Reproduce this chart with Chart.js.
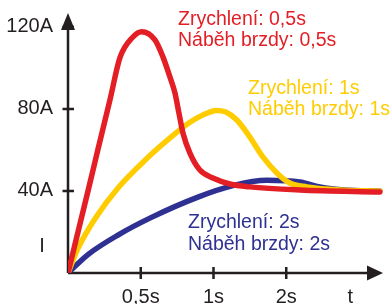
<!DOCTYPE html>
<html>
<head>
<meta charset="utf-8">
<script src="https://cdn.jsdelivr.net/npm/chart.js@4"></script>
<style>
  html, body { margin: 0; padding: 0; background: #fff; }
  #wrap { width: 392px; height: 304px; }
</style>
</head>
<body>
<div id="wrap"><canvas id="proudChart" width="392" height="304"></canvas></div>
<script>
// poloha na ose x v jednotkach dilku (1 = 0,5s, 2 = 1s, 3 = 2s)
var xTicks = [1, 2, 3, 3.88];
var xLabels = ['0,5s', '1s', '2s', 't'];
var yTicks = [40, 80, 120];

// zrychleni 0,5s
var redX = [0, 0.275, 0.41, 0.577, 0.714, 0.893, 1.012, 1.195, 1.305, 1.401, 1.47, 1.525, 1.58, 1.676, 1.813, 1.992, 2.225, 2.5, 3.187, 4.286];
var redA = [0, 40, 60, 84.4, 105, 115.1, 117.7, 113.7, 105.4, 95.6, 87.8, 78.0, 68.3, 58.5, 50.2, 46.3, 43.4, 42.0, 40.5, 39.5];

// zrychleni 1s
var yellowX = [0, 0.137, 0.371, 0.687, 1.058, 1.374, 1.676, 1.882, 2.033, 2.17, 2.321, 2.5, 2.679, 2.871, 3.049, 3.283, 3.736, 4.286];
var yellowA = [0, 12.0, 26.5, 41.5, 55.0, 65.0, 73.5, 77.5, 79.3, 78.5, 74.6, 66.3, 56.6, 48.8, 43.9, 42.0, 40.5, 40.0];

// zrychleni 2s
var blueX = [0, 0.275, 0.687, 1.14, 1.786, 2.266, 2.734, 3.187, 3.462, 3.805, 4.286];
var blueA = [0, 9.0, 18.5, 27.0, 37.0, 42.6, 45.2, 44.4, 42.0, 40.5, 40.0];

var RED = 'rgb(227, 30, 36)';
var YELLOW = 'rgb(255, 204, 0)';
var BLUE = 'rgb(46, 49, 146)';
var DARK = '#231f20';
var FONT = "'Liberation Sans', Arial, sans-serif";

function toPoints(xs, ys) {
    return xs.map(function(x, i) { return { x: x, y: ys[i] }; });
}

function lineSet(color, xs, ys) {
    return {
        data: toPoints(xs, ys),
        borderColor: color,
        borderWidth: 5.5,
        borderCapStyle: 'round',
        borderJoinStyle: 'round',
        pointRadius: 0,
        fill: false,
        cubicInterpolationMode: 'monotone'
    };
}

// osy se sipkami a carkami
var axesPlugin = {
    id: 'axes',
    beforeDatasetsDraw: function(chart) {
        var c = chart.ctx;
        var a = chart.chartArea;
        var xs = chart.scales.x;
        var ys = chart.scales.y;
        var ox = a.left, oy = a.bottom;
        c.save();
        c.strokeStyle = DARK;
        c.fillStyle = DARK;
        c.lineWidth = 2.5;
        c.beginPath();
        c.moveTo(ox, oy);
        c.lineTo(ox, a.top + 12);
        c.moveTo(ox, oy);
        c.lineTo(a.right - 12, oy);
        c.stroke();
        // sipky
        c.beginPath();
        c.moveTo(ox, a.top);
        c.lineTo(ox - 7, a.top + 17);
        c.lineTo(ox + 7, a.top + 17);
        c.closePath();
        c.fill();
        c.beginPath();
        c.moveTo(a.right, oy);
        c.lineTo(a.right - 16, oy - 7.5);
        c.lineTo(a.right - 16, oy + 7.5);
        c.closePath();
        c.fill();
        // carky
        c.beginPath();
        yTicks.forEach(function(v) {
            var y = ys.getPixelForValue(v);
            c.moveTo(ox - 5.5, y);
            c.lineTo(ox + 6, y);
        });
        xTicks.slice(0, 3).forEach(function(v) {
            var x = xs.getPixelForValue(v);
            c.moveTo(x, oy - 6);
            c.lineTo(x, oy + 6);
        });
        c.stroke();
        c.restore();
    },
    afterDraw: function(chart) {
        var c = chart.ctx;
        c.save();
        c.font = '19.5px ' + FONT;
        c.textBaseline = 'alphabetic';
        c.textAlign = 'left';
        c.fillStyle = RED;
        c.fillText('Zrychlení: 0,5s', 178, 25);
        c.fillText('Náběh brzdy: 0,5s', 178, 46);
        c.fillStyle = YELLOW;
        c.fillText('Zrychlení: 1s', 248, 94);
        c.fillText('Náběh brzdy: 1s', 248, 115);
        c.fillStyle = BLUE;
        c.fillText('Zrychlení: 2s', 188, 228);
        c.fillText('Náběh brzdy: 2s', 188, 250);
        c.fillStyle = DARK;
        c.font = '20px ' + FONT;
        c.textAlign = 'center';
        c.fillText('I', 42, 252);
        c.restore();
    }
};

document.addEventListener('DOMContentLoaded', function() {
    var ctx = document.getElementById('proudChart').getContext('2d');
    new Chart(ctx, {
        type: 'line',
        data: {
            datasets: [
                lineSet(RED, redX, redA),
                lineSet(YELLOW, yellowX, yellowA),
                lineSet(BLUE, blueX, blueA)
            ]
        },
        options: {
            responsive: false,
            animation: false,
            events: [],
            layout: { padding: { top: 13, right: 9, left: 0, bottom: 0 } },
            plugins: { legend: { display: false }, tooltip: { enabled: false } },
            scales: {
                x: {
                    type: 'linear',
                    min: 0,
                    max: 4.33,
                    grid: { display: false, drawTicks: false },
                    border: { display: false },
                    afterFit: function(s) {
                        s.height = 31;
                        s.paddingLeft = 0;
                        s.paddingRight = 0;
                    },
                    afterBuildTicks: function(s) {
                        s.ticks = xTicks.map(function(v) { return { value: v }; });
                    },
                    ticks: {
                        padding: 12,
                        maxRotation: 0,
                        autoSkip: false,
                        color: DARK,
                        font: { family: FONT, size: 20 },
                        callback: function(v) {
                            var i = xTicks.indexOf(v);
                            return i >= 0 ? xLabels[i] : '';
                        }
                    }
                },
                y: {
                    min: 0,
                    max: 126.8,
                    grid: { display: false, drawTicks: false },
                    border: { display: false },
                    afterFit: function(s) {
                        s.width = 68;
                        s.paddingTop = 0;
                        s.paddingBottom = 0;
                    },
                    afterBuildTicks: function(s) {
                        s.ticks = yTicks.map(function(v) { return { value: v }; });
                    },
                    ticks: {
                        padding: 15,
                        color: DARK,
                        font: { family: FONT, size: 20 },
                        callback: function(v) { return v + 'A'; }
                    }
                }
            }
        },
        plugins: [axesPlugin]
    });
});
</script>
</body>
</html>
